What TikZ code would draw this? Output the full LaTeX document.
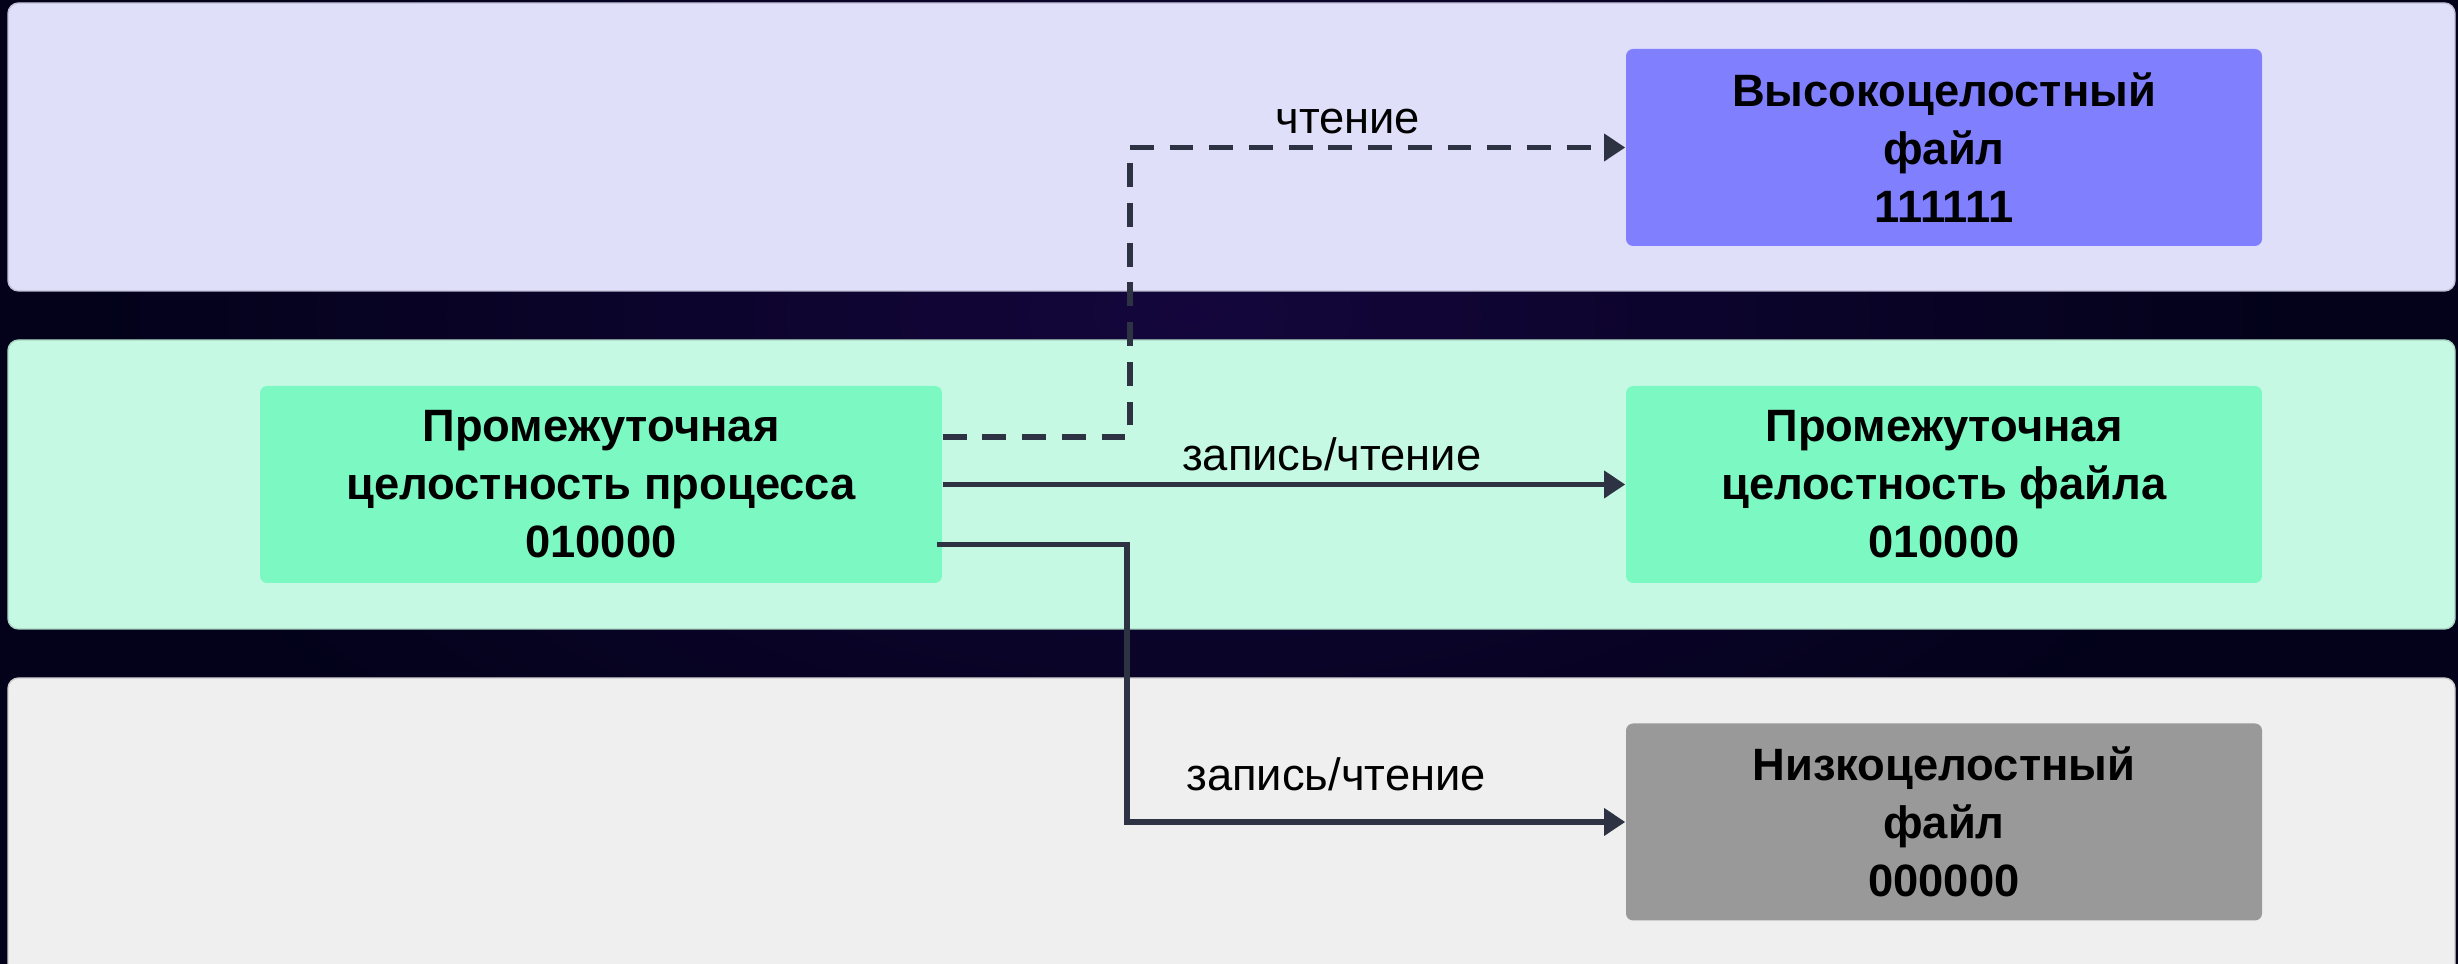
\documentclass[tikz,border=0pt]{standalone}
\usepackage{fontspec}
\setmainfont{Liberation Sans}
\usepackage{xcolor}
\usepackage{tikz}
\usetikzlibrary{arrows.meta}
\usetikzlibrary{positioning}

\definecolor{nightbg}{HTML}{03021A}
\definecolor{glow}{HTML}{14063C}
\definecolor{highband}{HTML}{E0DFFA}
\definecolor{highfill}{HTML}{8080FF}
\definecolor{midband}{HTML}{C6F9E3}
\definecolor{midfill}{HTML}{7CF9C2}
\definecolor{lowband}{HTML}{EFEFEF}
\definecolor{lowfill}{HTML}{999999}
\definecolor{wire}{HTML}{2D3343}

\tikzset{
    band/.style = {rounded corners=3pt, draw=#1!85!black, line width=0.4pt, fill=#1},
    box/.style = {rectangle, rounded corners=2pt, fill=#1, minimum width=6.36cm, minimum height=1.97cm,
        align=center, inner sep=0pt, font=\fontsize{12.9}{16.5}\selectfont\bfseries},
    wirelabel/.style = {font=\fontsize{12.9}{14}\selectfont, inner sep=1pt},
    link/.style = {draw=wire, line width=1.6pt, -{Triangle[length=6pt, width=7.5pt]}},
    dashlink/.style = {link, dash pattern=on 6.8pt off 4.5pt}
}

\begin{document}
\begin{tikzpicture}
    \useasboundingbox (0,0) rectangle (24.58,9.64);
    % night sky behind the levels
    \fill[nightbg] (0,0) rectangle (24.58,9.64);
    \shade[inner color=glow, outer color=nightbg] (11.9,6.5) ellipse (11cm and 6cm);

    % integrity levels
    \path[band=highband] (0.08,6.73) rectangle (24.55,9.61);
    \path[band=midband] (0.08,3.35) rectangle (24.55,6.24);
    \path[band=lowband] (0.08,-0.2) rectangle (24.55,2.86);

    % objects
    \node[box=highfill] (high) at (19.44,8.165) {Высокоцелостный\\файл\\111111};
    \node[box=midfill, minimum width=6.82cm] (proc) at (6.01,4.795) {Промежуточная\\целостность процесса\\010000};
    \node[box=midfill] (mid) at (19.44,4.795) {Промежуточная\\целостность файла\\010000};
    \node[box=lowfill] (low) at (19.44,1.42) {Низкоцелостный\\файл\\000000};

    % access
    \draw[dashlink] ([yshift=4.75mm]proc.east) -- ++(1.87,0) |- (high.west)
        node[wirelabel, pos=0.72, above=2pt] (readup) {чтение};
    \draw[link] (proc.east) -- (mid.west)
        node[wirelabel, pos=0.57, above=2pt] (rwmid) {запись/чтение};
    \draw[link] ([xshift=-0.6mm, yshift=-6mm]proc.east) -- ++(1.90,0) |- (low.west)
        node[wirelabel, pos=0.71, above=7pt] (rwlow) {запись/чтение};
\end{tikzpicture}
\end{document}
